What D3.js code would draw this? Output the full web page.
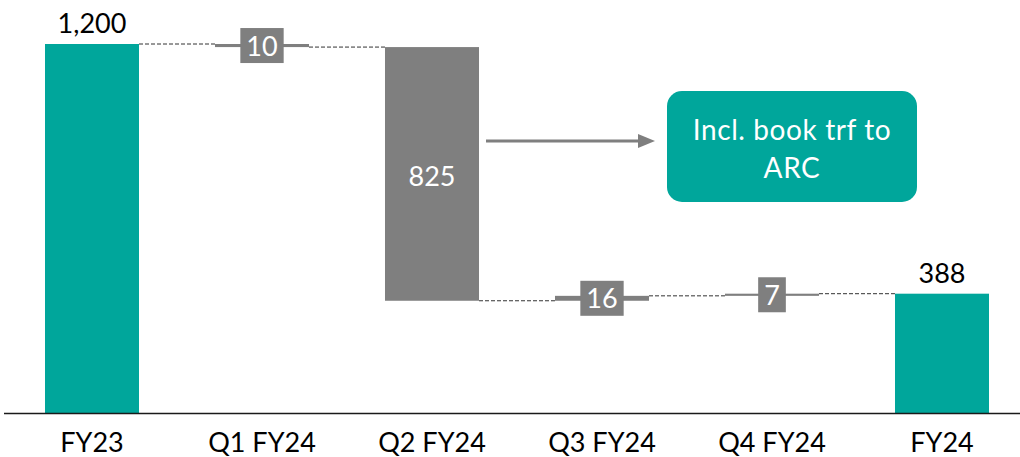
<!DOCTYPE html>
<html>
<head>
<meta charset="utf-8">
<script src="https://cdn.jsdelivr.net/npm/d3@7"></script>
<style>
  html, body { margin: 0; padding: 0; background: #fff; }
  svg { display: block; font-family: "Lato", "Open Sans", sans-serif; }
</style>
</head>
<body>
<svg id="chart" width="1020" height="457"></svg>
<script>
// Waterfall: opening balance, quarterly movements, closing balance
const categories = ["FY23", "Q1 FY24", "Q2 FY24", "Q3 FY24", "Q4 FY24", "FY24"];
const values     = [1200, -10, -825, 16, 7, 388];
const kinds      = ["total", "delta", "delta", "delta", "delta", "total"];
const valueLabels = ["1,200", "10", "825", "16", "7", "388"];
const noteLines  = ["Incl. book trf to", "ARC"];

const TEAL = "#00A69B";
const GREY = "#7F7F7F";

const svg = d3.select("#chart");
const W = 1020;

const x = d3.scaleBand()
  .domain(categories)
  .range([7, 1027])
  .paddingInner(0.447)
  .paddingOuter(0.2235);

const y = d3.scaleLinear().domain([0, 1200]).range([413, 44]);

// running totals -> start/end of each bar
let run = 0;
const bars = categories.map((c, i) => {
  let start, end;
  if (kinds[i] === "total") { start = 0; end = values[i]; run = values[i]; }
  else { start = run; end = run + values[i]; run = end; }
  return { cat: c, start, end, kind: kinds[i], label: valueLabels[i], level: run };
});

// dashed connectors between consecutive bars
const conn = svg.append("g");
bars.slice(0, -1).forEach((b, i) => {
  const next = bars[i + 1];
  conn.append("line")
    .attr("x1", x(b.cat) + x.bandwidth())
    .attr("x2", x(next.cat))
    .attr("y1", y(b.level))
    .attr("y2", y(b.level))
    .attr("stroke", "#333")
    .attr("stroke-width", 1)
    .attr("stroke-dasharray", "4,2");
});

// bars
svg.append("g").selectAll("rect")
  .data(bars)
  .join("rect")
  .attr("x", d => x(d.cat))
  .attr("width", x.bandwidth())
  .attr("y", d => y(Math.max(d.start, d.end)))
  .attr("height", d => Math.max(2, Math.abs(y(d.start) - y(d.end))))
  .attr("fill", d => d.kind === "total" ? TEAL : GREY);

// value labels
const labels = svg.append("g").attr("font-size", 27);
bars.forEach(b => {
  const cx = x(b.cat) + x.bandwidth() / 2;
  const top = y(Math.max(b.start, b.end));
  const bot = y(Math.min(b.start, b.end));
  if (b.kind === "total") {
    labels.append("text")
      .attr("x", cx).attr("y", top - 11)
      .attr("text-anchor", "middle")
      .attr("fill", "#000")
      .text(b.label);
  } else if (bot - top > 40) {
    labels.append("text")
      .attr("x", cx).attr("y", (top + bot) / 2 + 12)
      .attr("text-anchor", "middle")
      .attr("fill", "#fff")
      .text(b.label);
  } else {
    const mid = (top + bot) / 2;
    const t = labels.append("text")
      .attr("x", cx).attr("y", mid + 10)
      .attr("text-anchor", "middle")
      .attr("fill", "#fff")
      .text(b.label);
    const w = t.node().getComputedTextLength() + 12;
    labels.insert("rect", "text")
      .attr("x", cx - w / 2).attr("y", mid - 17.5)
      .attr("width", w).attr("height", 35)
      .attr("fill", GREY);
  }
});

// baseline
svg.append("line")
  .attr("x1", 4).attr("x2", W)
  .attr("y1", y(0) + 0.5).attr("y2", y(0) + 0.5)
  .attr("stroke", "#1a1a1a").attr("stroke-width", 1.6);

// category labels
svg.append("g").selectAll("text")
  .data(categories)
  .join("text")
  .attr("x", d => x(d) + x.bandwidth() / 2)
  .attr("y", 452)
  .attr("text-anchor", "middle")
  .attr("font-size", 27)
  .attr("fill", "#000")
  .text(d => d);

// annotation: arrow from the Q2 movement to the note box
const q2 = bars[2];
const ay = 141;
const ax0 = x(q2.cat) + x.bandwidth() + 7;
const ax1 = 655;
svg.append("line")
  .attr("x1", ax0).attr("x2", ax1 - 14)
  .attr("y1", ay).attr("y2", ay)
  .attr("stroke", GREY).attr("stroke-width", 3);
svg.append("path")
  .attr("d", `M${ax1},${ay} L${ax1 - 17},${ay - 7} L${ax1 - 17},${ay + 7} Z`)
  .attr("fill", GREY);

const note = svg.append("g");
note.append("rect")
  .attr("x", 667).attr("y", 91)
  .attr("width", 250).attr("height", 111)
  .attr("rx", 15).attr("ry", 15)
  .attr("fill", TEAL);
note.selectAll("text")
  .data(noteLines)
  .join("text")
  .attr("x", 792)
  .attr("y", (d, i) => 140 + i * 38)
  .attr("text-anchor", "middle")
  .attr("font-size", 28)
  .attr("letter-spacing", 0.6)
  .attr("fill", "#fff")
  .text(d => d);
</script>
</body>
</html>
